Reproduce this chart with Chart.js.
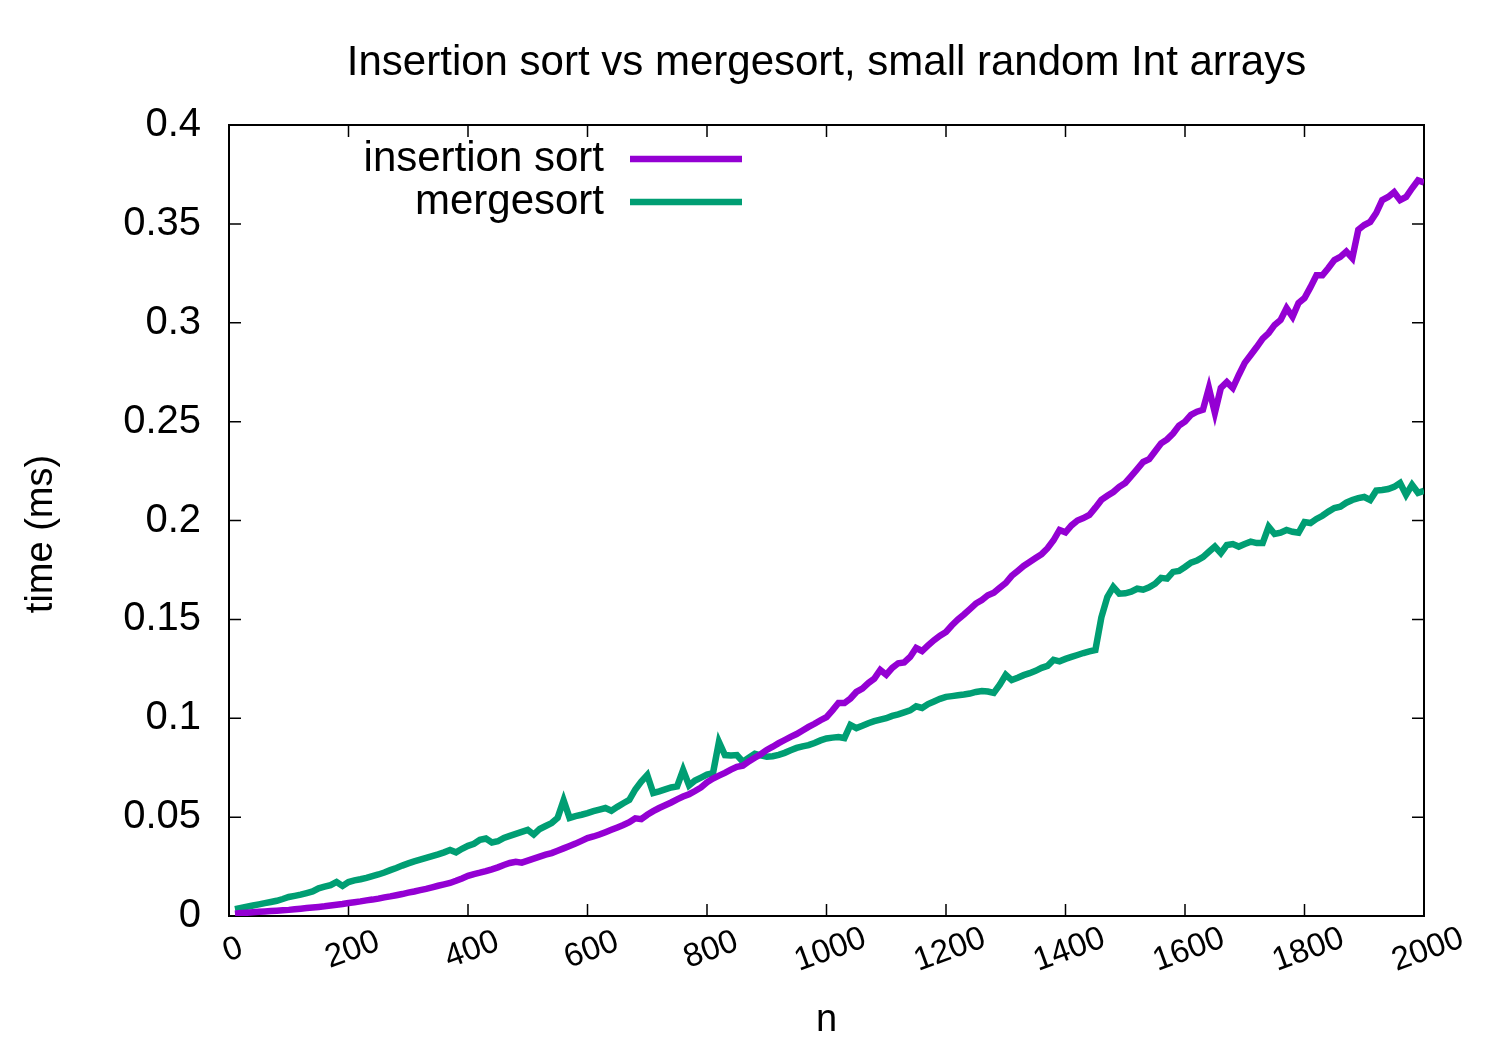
<!DOCTYPE html>
<html>
<head>
<meta charset="utf-8">
<script src="https://cdn.jsdelivr.net/npm/chart.js@4.4.1/dist/chart.umd.min.js"></script>
<style>
  html, body { margin: 0; padding: 0; background: #fff; }
  #wrap { width: 1500px; height: 1050px; }
</style>
</head>
<body>
<div id="wrap"><canvas id="chart" width="1500" height="1050"></canvas></div>
<script>
// array size n (every 10 up to 2000)
const sizes = [
  10, 20, 30, 40, 50, 60, 70, 80, 90, 100,
  110, 120, 130, 140, 150, 160, 170, 180, 190, 200,
  210, 220, 230, 240, 250, 260, 270, 280, 290, 300,
  310, 320, 330, 340, 350, 360, 370, 380, 390, 400,
  410, 420, 430, 440, 450, 460, 470, 480, 490, 500,
  510, 520, 530, 540, 550, 560, 570, 580, 590, 600,
  610, 620, 630, 640, 650, 660, 670, 680, 690, 700,
  710, 720, 730, 740, 750, 760, 770, 780, 790, 800,
  810, 820, 830, 840, 850, 860, 870, 880, 890, 900,
  910, 920, 930, 940, 950, 960, 970, 980, 990, 1000,
  1010, 1020, 1030, 1040, 1050, 1060, 1070, 1080, 1090, 1100,
  1110, 1120, 1130, 1140, 1150, 1160, 1170, 1180, 1190, 1200,
  1210, 1220, 1230, 1240, 1250, 1260, 1270, 1280, 1290, 1300,
  1310, 1320, 1330, 1340, 1350, 1360, 1370, 1380, 1390, 1400,
  1410, 1420, 1430, 1440, 1450, 1460, 1470, 1480, 1490, 1500,
  1510, 1520, 1530, 1540, 1550, 1560, 1570, 1580, 1590, 1600,
  1610, 1620, 1630, 1640, 1650, 1660, 1670, 1680, 1690, 1700,
  1710, 1720, 1730, 1740, 1750, 1760, 1770, 1780, 1790, 1800,
  1810, 1820, 1830, 1840, 1850, 1860, 1870, 1880, 1890, 1900,
  1910, 1920, 1930, 1940, 1950, 1960, 1970, 1980, 1990, 2000
];

// time in ms
const insertionSort = [
  0.0012, 0.0015, 0.0017, 0.0019, 0.0021, 0.0023, 0.0025, 0.0027, 0.0029, 0.0031,
  0.0034, 0.0037, 0.0040, 0.0043, 0.0046, 0.0049, 0.0053, 0.0057, 0.0061, 0.0066,
  0.0070, 0.0074, 0.0079, 0.0083, 0.0088, 0.0094, 0.0099, 0.0105, 0.0111, 0.0118,
  0.0124, 0.0131, 0.0137, 0.0145, 0.0153, 0.0160, 0.0167, 0.0178, 0.0190, 0.0203,
  0.0212, 0.0219, 0.0227, 0.0236, 0.0246, 0.0258, 0.0268, 0.0274, 0.0270, 0.0280,
  0.0290, 0.0300, 0.0310, 0.0318, 0.0330, 0.0342, 0.0354, 0.0366, 0.0380, 0.0394,
  0.0402, 0.0412, 0.0424, 0.0436, 0.0448, 0.0460, 0.0474, 0.0494, 0.0490, 0.0512,
  0.0530, 0.0546, 0.0560, 0.0574, 0.0590, 0.0604, 0.0616, 0.0632, 0.0650, 0.0676,
  0.0695, 0.0710, 0.0724, 0.0740, 0.0754, 0.0760, 0.0782, 0.0800, 0.0818, 0.0840,
  0.0856, 0.0874, 0.0890, 0.0906, 0.0920, 0.0938, 0.0956, 0.0972, 0.0990, 0.1006,
  0.1040, 0.1077, 0.1077, 0.1100, 0.1133, 0.1150, 0.1178, 0.1200, 0.1244, 0.1220,
  0.1255, 0.1278, 0.1282, 0.1310, 0.1355, 0.1340, 0.1368, 0.1395, 0.1418, 0.1436,
  0.1470, 0.1500, 0.1525, 0.1552, 0.1580, 0.1598, 0.1622, 0.1635, 0.1660, 0.1684,
  0.1720, 0.1745, 0.1770, 0.1790, 0.1810, 0.1830, 0.1860, 0.1900, 0.1952, 0.1940,
  0.1975, 0.2000, 0.2012, 0.2028, 0.2065, 0.2104, 0.2125, 0.2144, 0.2170, 0.2190,
  0.2225, 0.2260, 0.2296, 0.2310, 0.2350, 0.2390, 0.2410, 0.2440, 0.2480, 0.2500,
  0.2534, 0.2550, 0.2560, 0.2670, 0.2544, 0.2670, 0.2700, 0.2670, 0.2736, 0.2797,
  0.2837, 0.2877, 0.2920, 0.2948, 0.2989, 0.3014, 0.3074, 0.3030, 0.3100, 0.3125,
  0.3180, 0.3240, 0.3240, 0.3277, 0.3317, 0.3333, 0.3360, 0.3327, 0.3470, 0.3494,
  0.3510, 0.3555, 0.3620, 0.3636, 0.3660, 0.3620, 0.3636, 0.3680, 0.3720, 0.3710
];

const mergesort = [
  0.0035, 0.0041, 0.0047, 0.0053, 0.0059, 0.0065, 0.0071, 0.0077, 0.0086, 0.0096,
  0.0102, 0.0108, 0.0116, 0.0124, 0.0140, 0.0148, 0.0156, 0.0172, 0.0152, 0.0172,
  0.0180, 0.0186, 0.0193, 0.0202, 0.0210, 0.0220, 0.0232, 0.0243, 0.0255, 0.0266,
  0.0276, 0.0285, 0.0294, 0.0303, 0.0312, 0.0322, 0.0334, 0.0322, 0.0340, 0.0355,
  0.0365, 0.0385, 0.0392, 0.0372, 0.0378, 0.0395, 0.0405, 0.0415, 0.0425, 0.0435,
  0.0412, 0.0440, 0.0455, 0.0470, 0.0496, 0.0585, 0.0496, 0.0505, 0.0512, 0.0520,
  0.0530, 0.0538, 0.0546, 0.0532, 0.0552, 0.0570, 0.0587, 0.0640, 0.0680, 0.0713,
  0.0622, 0.0630, 0.0640, 0.0650, 0.0655, 0.0738, 0.0660, 0.0685, 0.0700, 0.0715,
  0.0722, 0.0880, 0.0814, 0.0812, 0.0814, 0.0780, 0.0800, 0.0820, 0.0812, 0.0805,
  0.0808, 0.0815, 0.0825, 0.0838, 0.0850, 0.0858, 0.0864, 0.0875, 0.0888, 0.0898,
  0.0902, 0.0905, 0.0900, 0.0966, 0.0950, 0.0962, 0.0975, 0.0985, 0.0993, 0.1000,
  0.1012, 0.1020, 0.1030, 0.1040, 0.1060, 0.1052, 0.1072, 0.1085, 0.1098, 0.1108,
  0.1112, 0.1116, 0.1120, 0.1125, 0.1133, 0.1138, 0.1135, 0.1128, 0.1170, 0.1220,
  0.1193, 0.1205, 0.1218, 0.1228, 0.1240, 0.1255, 0.1265, 0.1295, 0.1288, 0.1300,
  0.1310, 0.1320, 0.1330, 0.1338, 0.1345, 0.1510, 0.1613, 0.1664, 0.1630, 0.1632,
  0.1640, 0.1655, 0.1650, 0.1662, 0.1680, 0.1710, 0.1706, 0.1740, 0.1745, 0.1765,
  0.1787, 0.1797, 0.1815, 0.1842, 0.1868, 0.1835, 0.1876, 0.1881, 0.1868, 0.1881,
  0.1893, 0.1886, 0.1886, 0.1969, 0.1932, 0.1938, 0.1952, 0.1943, 0.1938, 0.1992,
  0.1987, 0.2008, 0.2024, 0.2045, 0.2063, 0.2070, 0.2090, 0.2104, 0.2113, 0.2119,
  0.2104, 0.2151, 0.2154, 0.2159, 0.2170, 0.2190, 0.2130, 0.2180, 0.2140, 0.2150
];

const xTicks = [0, 200, 400, 600, 800, 1000, 1200, 1400, 1600, 1800, 2000];
const xTickLabels = ["0", "200", "400", "600", "800", "1000", "1200", "1400", "1600", "1800", "2000"];
const yTicks = [0, 0.05, 0.1, 0.15, 0.2, 0.25, 0.3, 0.35, 0.4];
const yTickLabels = ["0", "0.05", "0.1", "0.15", "0.2", "0.25", "0.3", "0.35", "0.4"];

const titleText = "Insertion sort vs mergesort, small random Int arrays";
const font = "'Liberation Sans', Arial, Helvetica, sans-serif";

function points(values) {
  return sizes.map((n, i) => ({ x: n, y: values[i] }));
}

// gnuplot look: full border, inward mirrored ticks, key with text before the sample line
const gnuplotFrame = {
  id: "gnuplotFrame",
  beforeDatasetsDraw(chart) {
    const { ctx, chartArea: a, scales: { x, y } } = chart;
    ctx.save();
    ctx.strokeStyle = "#000";
    ctx.lineWidth = 1.5;
    ctx.beginPath();
    xTicks.forEach(v => {
      const px = x.getPixelForValue(v);
      ctx.moveTo(px, a.bottom); ctx.lineTo(px, a.bottom - 12);
      ctx.moveTo(px, a.top); ctx.lineTo(px, a.top + 12);
    });
    yTicks.forEach(v => {
      const py = y.getPixelForValue(v);
      ctx.moveTo(a.left, py); ctx.lineTo(a.left + 12, py);
      ctx.moveTo(a.right, py); ctx.lineTo(a.right - 12, py);
    });
    ctx.stroke();
    ctx.lineWidth = 2;
    ctx.strokeRect(a.left, a.top, a.right - a.left, a.bottom - a.top);
    ctx.restore();
  },
  afterDraw(chart) {
    const { ctx, chartArea: a, scales: { x } } = chart;
    const cx = (a.left + a.right) / 2;
    ctx.save();
    ctx.fillStyle = "#000";
    ctx.textBaseline = "middle";

    ctx.font = "42px " + font;
    ctx.textAlign = "center";
    ctx.fillText(titleText, cx, 63);

    // rotated x tick labels
    ctx.font = "33px " + font;
    xTicks.forEach((v, i) => {
      ctx.save();
      ctx.translate(x.getPixelForValue(v) + 4, 950);
      ctx.rotate(-20 * Math.PI / 180);
      ctx.fillText(xTickLabels[i], 0, 0);
      ctx.restore();
    });

    ctx.font = "38px " + font;
    ctx.fillText("n", cx, 1021);
    ctx.save();
    ctx.translate(42, 534);
    ctx.rotate(-Math.PI / 2);
    ctx.fillText("time (ms)", 0, 0);
    ctx.restore();

    // key
    ctx.font = "42px " + font;
    ctx.textAlign = "right";
    chart.data.datasets.forEach((ds, i) => {
      const ky = 159 + i * 43;
      ctx.fillStyle = "#000";
      ctx.fillText(ds.label, 604, ky);
      ctx.strokeStyle = ds.borderColor;
      ctx.lineWidth = 6.5;
      ctx.beginPath();
      ctx.moveTo(630, ky);
      ctx.lineTo(742, ky);
      ctx.stroke();
    });
    ctx.restore();
  }
};

new Chart(document.getElementById("chart"), {
  type: "line",
  data: {
    datasets: [
      { label: "insertion sort", data: points(insertionSort), borderColor: "#9400d3" },
      { label: "mergesort", data: points(mergesort), borderColor: "#009e73" }
    ]
  },
  options: {
    responsive: false,
    devicePixelRatio: 1,
    animation: false,
    layout: { padding: { top: 125, right: 76, left: 0, bottom: 0 } },
    elements: {
      point: { radius: 0 },
      line: { borderWidth: 6.5, tension: 0, fill: false }
    },
    scales: {
      x: {
        type: "linear",
        min: 0,
        max: 2000,
        grid: { display: false },
        border: { display: false },
        ticks: { display: false, stepSize: 200 },
        afterFit: s => { s.height = 134; }
      },
      y: {
        type: "linear",
        min: 0,
        max: 0.4,
        grid: { display: false, drawTicks: false },
        border: { display: false },
        afterBuildTicks: s => { s.ticks = yTicks.map(v => ({ value: v })); },
        ticks: {
          padding: 28,
          color: "#000",
          font: { family: font, size: 40 },
          callback: (v, i) => yTickLabels[i]
        },
        afterFit: s => { s.width = 229; }
      }
    },
    plugins: {
      legend: { display: false },
      tooltip: { enabled: false },
      title: { display: false }
    }
  },
  plugins: [gnuplotFrame]
});
</script>
</body>
</html>
